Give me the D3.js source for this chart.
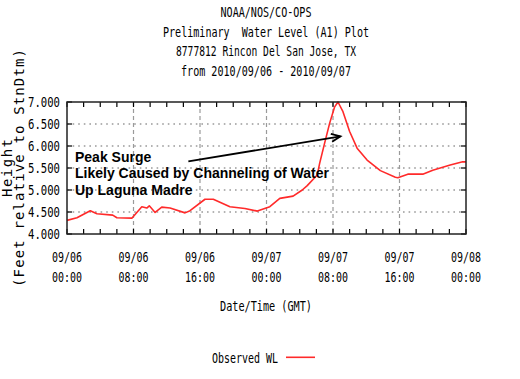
<!DOCTYPE html>
<html><head><meta charset="utf-8">
<script src="https://cdn.jsdelivr.net/npm/d3@7"></script>
<style>
html,body{margin:0;padding:0;background:#fff;}
svg{display:block;}
.mono{font-family:"DejaVu Sans Mono",monospace;fill:#000;white-space:pre;}
</style></head>
<body>
<script>
// ---- data ----
const titleLines = ["NOAA/NOS/CO-OPS","Preliminary  Water Level (A1) Plot","8777812 Rincon Del San Jose, TX","from 2010/09/06 - 2010/09/07"];
const hours = [0,1.2,2.8,3.6,5.5,6.0,7.8,9.0,9.6,9.9,10.6,11.4,12.4,14.2,14.8,16.6,17.6,19.6,21.4,22.9,24.4,25.6,27.2,28.3,28.9,30.1,30.4,31.0,31.6,32.2,32.6,33.2,34.0,34.9,36.1,37.7,39.5,39.8,41.0,42.8,44.0,46.1,47.6,48.0];
const levels = [4.31,4.37,4.53,4.46,4.43,4.37,4.36,4.62,4.59,4.64,4.49,4.61,4.59,4.48,4.53,4.79,4.79,4.62,4.58,4.52,4.62,4.81,4.86,5.00,5.10,5.34,5.61,6.07,6.52,6.89,7.00,6.78,6.33,5.95,5.68,5.44,5.29,5.28,5.36,5.36,5.45,5.57,5.64,5.64];
const xTickHours = [0,8,16,24,32,40,48];
const xTickDates = ["09/06","09/06","09/06","09/07","09/07","09/07","09/08"];
const xTickTimes = ["00:00","08:00","16:00","00:00","08:00","16:00","00:00"];
const yTicks = [4.0,4.5,5.0,5.5,6.0,6.5,7.0];
const annotationLines = ["Peak Surge","Likely Caused by Channeling of Water","Up Laguna Madre"];
const arrowFrom = [14.6, 5.65];   // in data units (hours, feet)
const arrowTo = [32.9, 6.22];
const xLabel = "Date/Time (GMT)";
const yLabel1 = "Height";
const yLabel2 = "(Feet relative to StnDtm)";
const legendLabel = "Observed WL";

// ---- layout ----
const W = 520, H = 379;
const m = {left:67, right:466, top:102, bottom:234};
const svg = d3.select("body").append("svg").attr("width",W).attr("height",H);

const x = d3.scaleLinear().domain([0,48]).range([m.left,m.right]);
const y = d3.scaleLinear().domain([4,7]).range([m.bottom,m.top]);
const FS = 14.5;

// titles
const titleY = [17,36.5,56,75.5];
const titleW = [91,206,180,170];
titleLines.forEach((t,i)=>{
  svg.append("text").attr("class","mono").attr("x",266).attr("y",titleY[i])
    .attr("text-anchor","middle").attr("font-size",FS).attr("xml:space","preserve")
    .attr("textLength",titleW[i]).attr("lengthAdjust","spacingAndGlyphs").text(t);
});

// grid
const g = svg.append("g");
g.selectAll(".hg").data(yTicks.filter(v=>v>4 && v<7)).enter().append("line")
  .attr("x1",m.left).attr("x2",m.right).attr("y1",d=>y(d)).attr("y2",d=>y(d))
  .attr("stroke","#9a9a9a").attr("stroke-width",1.6).attr("stroke-dasharray","1.6,4");
g.selectAll(".vg").data(xTickHours.filter(h=>h>0 && h<48)).enter().append("line")
  .attr("x1",d=>x(d)).attr("x2",d=>x(d)).attr("y1",m.top).attr("y2",m.bottom)
  .attr("stroke","#9a9a9a").attr("stroke-width",1.2).attr("stroke-dasharray","4,3");

// ticks (inward)
const minor = d3.range(0,49,2);
const tk = svg.append("g").attr("stroke","#000").attr("stroke-width",1.2);
minor.forEach(h=>{
  tk.append("line").attr("x1",x(h)).attr("x2",x(h)).attr("y1",m.bottom).attr("y2",m.bottom-5);
  tk.append("line").attr("x1",x(h)).attr("x2",x(h)).attr("y1",m.top).attr("y2",m.top+5);
});
yTicks.forEach(v=>{
  tk.append("line").attr("x1",m.left).attr("x2",m.left+5).attr("y1",y(v)).attr("y2",y(v));
  tk.append("line").attr("x1",m.right).attr("x2",m.right-5).attr("y1",y(v)).attr("y2",y(v));
});

// data line
const line = d3.line().x((d,i)=>x(hours[i])).y(d=>y(d));
svg.append("path").datum(levels).attr("d",line).attr("fill","none")
  .attr("stroke","#ff2a2a").attr("stroke-width",1.6).attr("stroke-linejoin","round");

// frame
svg.append("rect").attr("x",m.left).attr("y",m.top).attr("width",m.right-m.left).attr("height",m.bottom-m.top)
  .attr("fill","none").attr("stroke","#222").attr("stroke-width",1.5);

// y tick labels
svg.selectAll(".yl").data(yTicks).enter().append("text").attr("class","mono")
  .attr("x",60).attr("y",d=>y(d)+5).attr("text-anchor","end").attr("font-size",FS)
  .attr("textLength",32).attr("lengthAdjust","spacingAndGlyphs").text(d3.format(".3f"));

// x tick labels
xTickHours.forEach((h,i)=>{
  svg.append("text").attr("class","mono").attr("x",x(h)).attr("y",262).attr("text-anchor","middle")
    .attr("font-size",FS).attr("textLength",30).attr("lengthAdjust","spacingAndGlyphs").text(xTickDates[i]);
  svg.append("text").attr("class","mono").attr("x",x(h)).attr("y",282).attr("text-anchor","middle")
    .attr("font-size",FS).attr("textLength",30).attr("lengthAdjust","spacingAndGlyphs").text(xTickTimes[i]);
});

// axis titles
svg.append("text").attr("class","mono").attr("x",266).attr("y",311).attr("text-anchor","middle")
  .attr("font-size",FS).attr("textLength",92).attr("lengthAdjust","spacingAndGlyphs").text(xLabel);
const yc = (m.top+m.bottom)/2;
svg.append("text").attr("class","mono").attr("transform",`translate(12,${yc}) rotate(-90)`)
  .attr("text-anchor","middle").attr("font-size",14).attr("textLength",58).attr("lengthAdjust","spacing").text(yLabel1);
svg.append("text").attr("class","mono").attr("transform",`translate(24,${yc}) rotate(-90)`)
  .attr("text-anchor","middle").attr("font-size",14).attr("textLength",238).attr("lengthAdjust","spacing").text(yLabel2);

// annotation
annotationLines.forEach((t,i)=>{
  svg.append("text").attr("x",75).attr("y",161.7+i*16.7)
    .attr("font-family","'Liberation Sans',Arial,sans-serif").attr("font-weight","bold")
    .attr("font-size",14).attr("fill","#000").text(t);
});
const ax1 = x(arrowFrom[0]), ay1 = y(arrowFrom[1]), ax2 = x(arrowTo[0]), ay2 = y(arrowTo[1]);
svg.append("line").attr("x1",ax1).attr("y1",ay1).attr("x2",ax2).attr("y2",ay2)
  .attr("stroke","#000").attr("stroke-width",1.8);
const ang = Math.atan2(ay2-ay1, ax2-ax1), hl = 10, ha = 0.42;
const head = [[ax2-hl*Math.cos(ang-ha), ay2-hl*Math.sin(ang-ha)],[ax2,ay2],[ax2-hl*Math.cos(ang+ha), ay2-hl*Math.sin(ang+ha)]];
svg.append("path").attr("d",d3.line()(head)).attr("fill","none").attr("stroke","#000").attr("stroke-width",1.8);

// legend
svg.append("text").attr("class","mono").attr("x",278).attr("y",363).attr("text-anchor","end")
  .attr("font-size",FS).attr("textLength",66).attr("lengthAdjust","spacingAndGlyphs").text(legendLabel);
svg.append("line").attr("x1",286).attr("x2",315).attr("y1",357.3).attr("y2",357.3)
  .attr("stroke","#ff2a2a").attr("stroke-width",1.6);
</script>
</body></html>
